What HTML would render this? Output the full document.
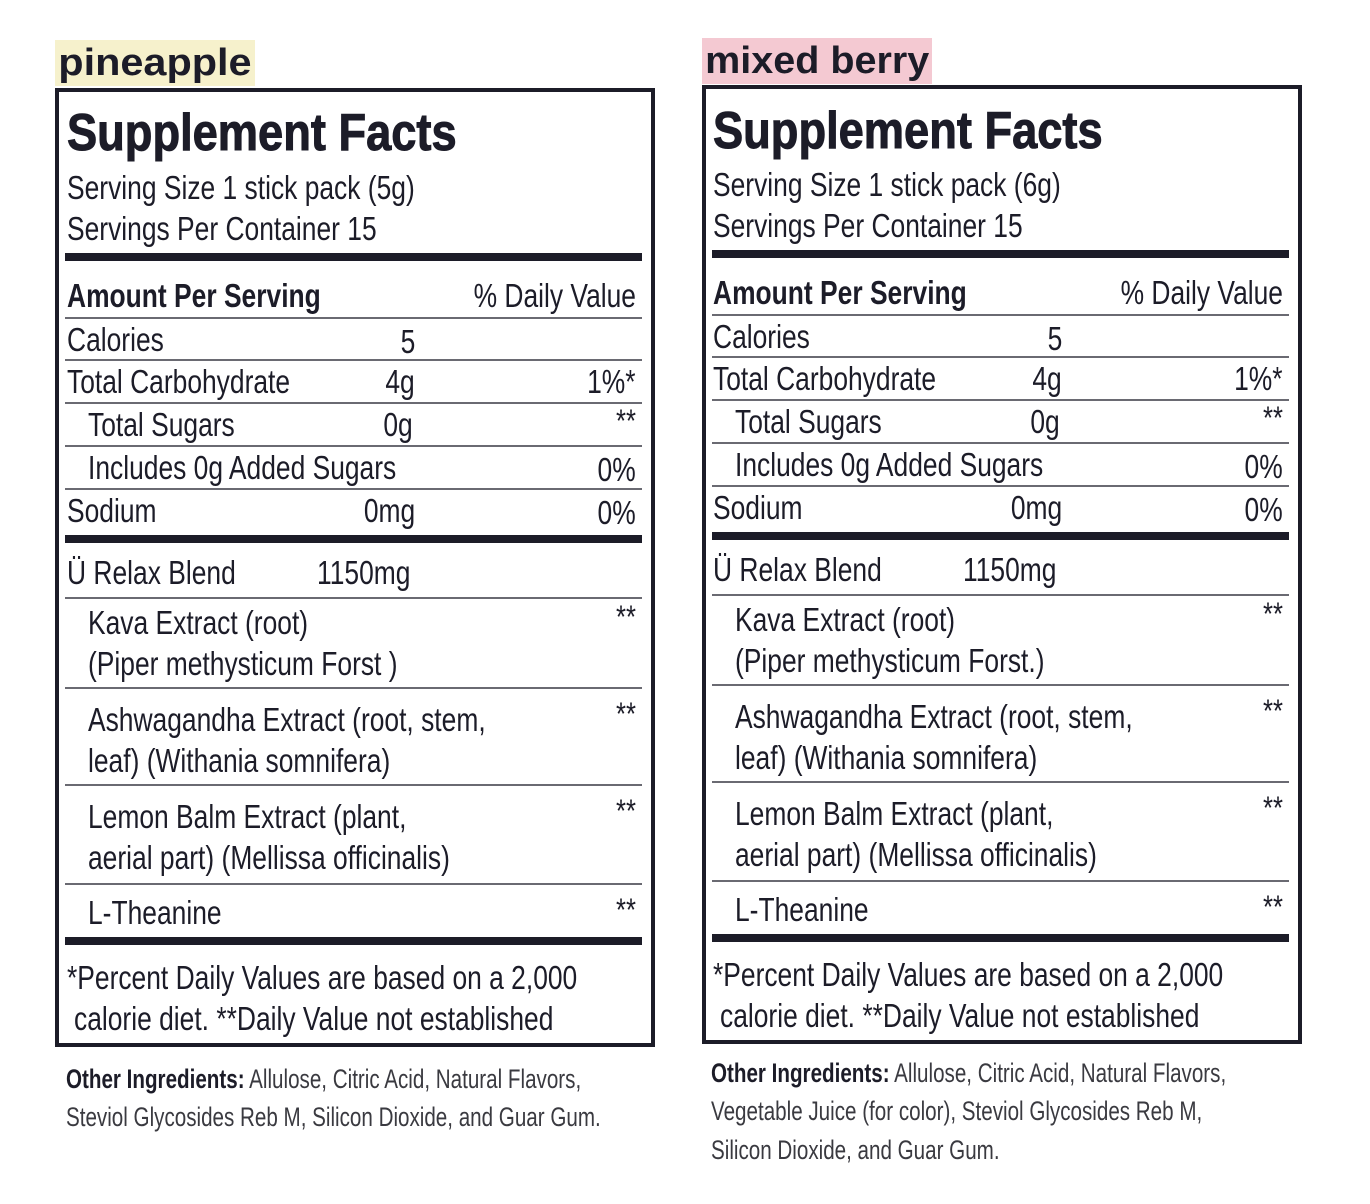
<!DOCTYPE html>
<html><head><meta charset="utf-8"><style>
html,body{margin:0;padding:0;background:#fff;}
body{width:1370px;height:1204px;position:relative;overflow:hidden;font-family:"Liberation Sans",sans-serif;color:#1c1c28;}
.p{position:absolute;width:600px;height:959px;}
.box{position:absolute;left:0;top:0;width:592px;height:951px;border:4px solid #1c1c28;}
.t{position:absolute;white-space:nowrap;font-size:33px;line-height:33px;transform:scaleX(0.80);transform-origin:left center;}
.r{transform-origin:right center;}
.b{font-weight:bold;}
.ttl{font-size:52px;line-height:52px;font-weight:bold;transform:scaleX(0.87);-webkit-text-stroke:1px #1c1c28;}
.ln{position:absolute;left:10px;width:577px;height:2px;background:#6a6a72;}
.bar{position:absolute;left:10px;width:577px;height:8px;background:#1c1c28;}
.st{font-size:32px;line-height:32px;}
.lab{position:absolute;font-weight:bold;font-size:38px;line-height:46px;color:#1c1c28;}
.lab span{display:inline-block;transform:scaleX(1.09);transform-origin:left center;padding-left:3px;}
.oi{position:absolute;white-space:nowrap;font-size:27px;line-height:27px;color:#3a3a40;transform:scaleX(0.763);transform-origin:left center;}
</style></head><body>

<div class="lab" style="left:55px;top:40px;width:200px;height:46px;background:#f6f1cc;"><span>pineapple</span></div>
<div class="lab" style="left:702px;top:38px;width:230px;height:46px;background:#f4c9d2;"><span style="transform:scaleX(1.04)">mixed berry</span></div>

<!-- LEFT PANEL -->
<div class="p" style="left:55px;top:88px;">
<div class="box"></div>
<div class="t ttl" style="left:12px;top:19px;">Supplement Facts</div>
<div class="t" style="left:12px;top:83px;">Serving Size 1 stick pack (5g)</div>
<div class="t" style="left:12px;top:124px;">Servings Per Container 15</div>
<div class="bar" style="top:165px;"></div>
<div class="t b" style="left:12px;top:191px;">Amount Per Serving</div>
<div class="t r" style="right:19px;top:191px;">% Daily Value</div>
<div class="ln" style="top:229px;"></div>
<div class="t" style="left:12px;top:235px;">Calories</div>
<div class="t r" style="right:240px;top:237px;">5</div>
<div class="ln" style="top:271px;"></div>
<div class="t" style="left:12px;top:277px;">Total Carbohydrate</div>
<div class="t r" style="right:240px;top:277px;">4g</div>
<div class="t r" style="right:19px;top:277px;">1%*</div>
<div class="ln" style="top:314px;"></div>
<div class="t" style="left:33px;top:320px;">Total Sugars</div>
<div class="t r" style="right:242px;top:320px;">0g</div>
<div class="t r st" style="right:19px;top:317px;">**</div>
<div class="ln" style="top:357px;"></div>
<div class="t" style="left:33px;top:363px;">Includes 0g Added Sugars</div>
<div class="t r" style="right:19px;top:365px;">0%</div>
<div class="ln" style="top:400px;"></div>
<div class="t" style="left:12px;top:406px;">Sodium</div>
<div class="t r" style="right:240px;top:406px;">0mg</div>
<div class="t r" style="right:19px;top:408px;">0%</div>
<div class="bar" style="top:447px;"></div>
<div class="t" style="left:12px;top:468px;">Ü Relax Blend</div>
<div class="t" style="left:262px;top:468px;">1150mg</div>
<div class="ln" style="top:509px;"></div>
<div class="t" style="left:33px;top:518px;">Kava Extract (root)</div>
<div class="t" style="left:33px;top:559px;">(Piper methysticum Forst )</div>
<div class="t r st" style="right:19px;top:513px;">**</div>
<div class="ln" style="top:599px;"></div>
<div class="t" style="left:33px;top:615px;">Ashwagandha Extract (root, stem,</div>
<div class="t" style="left:33px;top:656px;">leaf) (Withania somnifera)</div>
<div class="t r st" style="right:19px;top:610px;">**</div>
<div class="ln" style="top:696px;"></div>
<div class="t" style="left:33px;top:712px;">Lemon Balm Extract (plant,</div>
<div class="t" style="left:33px;top:753px;">aerial part) (Mellissa officinalis)</div>
<div class="t r st" style="right:19px;top:707px;">**</div>
<div class="ln" style="top:795px;"></div>
<div class="t" style="left:33px;top:808px;">L-Theanine</div>
<div class="t r st" style="right:19px;top:806px;">**</div>
<div class="bar" style="top:849px;"></div>
<div class="t" style="left:12px;top:873px;">*Percent Daily Values are based on a 2,000</div>
<div class="t" style="left:19px;top:914px;">calorie diet. **Daily Value not established</div>
</div>

<!-- RIGHT PANEL -->
<div class="p" style="left:702px;top:85px;">
<div class="box"></div>
<div class="t ttl" style="left:11px;top:20px;">Supplement Facts</div>
<div class="t" style="left:11px;top:83px;">Serving Size 1 stick pack (6g)</div>
<div class="t" style="left:11px;top:124px;">Servings Per Container 15</div>
<div class="bar" style="top:165px;"></div>
<div class="t b" style="left:11px;top:191px;">Amount Per Serving</div>
<div class="t r" style="right:19px;top:191px;">% Daily Value</div>
<div class="ln" style="top:229px;"></div>
<div class="t" style="left:11px;top:235px;">Calories</div>
<div class="t r" style="right:240px;top:237px;">5</div>
<div class="ln" style="top:271px;"></div>
<div class="t" style="left:11px;top:277px;">Total Carbohydrate</div>
<div class="t r" style="right:240px;top:277px;">4g</div>
<div class="t r" style="right:19px;top:277px;">1%*</div>
<div class="ln" style="top:314px;"></div>
<div class="t" style="left:33px;top:320px;">Total Sugars</div>
<div class="t r" style="right:242px;top:320px;">0g</div>
<div class="t r st" style="right:19px;top:317px;">**</div>
<div class="ln" style="top:357px;"></div>
<div class="t" style="left:33px;top:363px;">Includes 0g Added Sugars</div>
<div class="t r" style="right:19px;top:365px;">0%</div>
<div class="ln" style="top:400px;"></div>
<div class="t" style="left:11px;top:406px;">Sodium</div>
<div class="t r" style="right:240px;top:406px;">0mg</div>
<div class="t r" style="right:19px;top:408px;">0%</div>
<div class="bar" style="top:447px;"></div>
<div class="t" style="left:11px;top:468px;">Ü Relax Blend</div>
<div class="t" style="left:261px;top:468px;">1150mg</div>
<div class="ln" style="top:509px;"></div>
<div class="t" style="left:33px;top:518px;">Kava Extract (root)</div>
<div class="t" style="left:33px;top:559px;">(Piper methysticum Forst.)</div>
<div class="t r st" style="right:19px;top:513px;">**</div>
<div class="ln" style="top:599px;"></div>
<div class="t" style="left:33px;top:615px;">Ashwagandha Extract (root, stem,</div>
<div class="t" style="left:33px;top:656px;">leaf) (Withania somnifera)</div>
<div class="t r st" style="right:19px;top:610px;">**</div>
<div class="ln" style="top:696px;"></div>
<div class="t" style="left:33px;top:712px;">Lemon Balm Extract (plant,</div>
<div class="t" style="left:33px;top:753px;">aerial part) (Mellissa officinalis)</div>
<div class="t r st" style="right:19px;top:707px;">**</div>
<div class="ln" style="top:795px;"></div>
<div class="t" style="left:33px;top:808px;">L-Theanine</div>
<div class="t r st" style="right:19px;top:806px;">**</div>
<div class="bar" style="top:849px;"></div>
<div class="t" style="left:11px;top:873px;">*Percent Daily Values are based on a 2,000</div>
<div class="t" style="left:18px;top:914px;">calorie diet. **Daily Value not established</div>
</div>

<div class="oi" style="left:66px;top:1066px;"><b style="color:#1c1c28">Other Ingredients:</b> Allulose, Citric Acid, Natural Flavors,</div>
<div class="oi" style="left:66px;top:1104px;">Steviol Glycosides Reb M, Silicon Dioxide, and Guar Gum.</div>

<div class="oi" style="left:711px;top:1060px;"><b style="color:#1c1c28">Other Ingredients:</b> Allulose, Citric Acid, Natural Flavors,</div>
<div class="oi" style="left:711px;top:1098px;">Vegetable Juice (for color), Steviol Glycosides Reb M,</div>
<div class="oi" style="left:711px;top:1137px;">Silicon Dioxide, and Guar Gum.</div>

</body></html>
